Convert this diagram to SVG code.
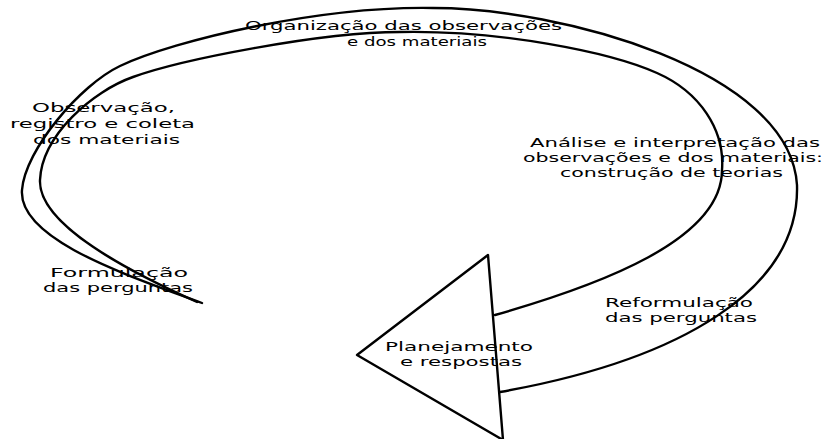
<svg xmlns="http://www.w3.org/2000/svg" width="825" height="439" viewBox="0 0 825 439">
<style>
.ln{fill:none;stroke:#000;stroke-width:2.4;stroke-linejoin:round;stroke-linecap:round}
.lb{font-family:"DejaVu Sans","Liberation Sans",sans-serif;font-size:13px;fill:#000}
</style>
<rect width="825" height="439" fill="#fff"/>
<g id="connectors">
<path class="ln" d="M202,303 C130,276 18,240 22,190 C25,150 80,85 120,66 C175,40 320,6 433,8 C560,8 790,70 797,185 C800,290 680,360 500,392"/>
<path class="ln" d="M197,302 C130,272 38,225 40,180 C42,135 93,91 133,77 C180,60 320,32 400,32 C500,30 610,52 657,73 C700,92 725,130 722,170 C722,240 600,285 495,315"/>
<polygon class="ln" points="357,355 488,255 503,440"/>
</g>
<g id="organizacao">
<text class="lb" x="245" y="30" textLength="317" lengthAdjust="spacingAndGlyphs">Organização das observações</text>
<text class="lb" x="347" y="46" textLength="140" lengthAdjust="spacingAndGlyphs">e dos materiais</text>
</g>
<g id="observacao">
<text class="lb" x="32" y="112" textLength="143" lengthAdjust="spacingAndGlyphs">Observação,</text>
<text class="lb" x="10" y="128" textLength="185" lengthAdjust="spacingAndGlyphs">registro e coleta</text>
<text class="lb" x="33" y="144" textLength="147" lengthAdjust="spacingAndGlyphs">dos materiais</text>
</g>
<g id="analise">
<text class="lb" x="530" y="147" textLength="290" lengthAdjust="spacingAndGlyphs">Análise e interpretação das</text>
<text class="lb" x="523" y="162" textLength="300" lengthAdjust="spacingAndGlyphs">observações e dos materiais:</text>
<text class="lb" x="560" y="177" textLength="223" lengthAdjust="spacingAndGlyphs">construção de teorias</text>
</g>
<g id="formulacao">
<text class="lb" x="50" y="277" textLength="138" lengthAdjust="spacingAndGlyphs">Formulação</text>
<text class="lb" x="43" y="292" textLength="150" lengthAdjust="spacingAndGlyphs">das perguntas</text>
</g>
<g id="reformulacao">
<text class="lb" x="605" y="307" textLength="148" lengthAdjust="spacingAndGlyphs">Reformulação</text>
<text class="lb" x="605" y="322" textLength="152" lengthAdjust="spacingAndGlyphs">das perguntas</text>
</g>
<g id="planejamento">
<text class="lb" x="385" y="351" textLength="148" lengthAdjust="spacingAndGlyphs">Planejamento</text>
<text class="lb" x="400" y="366" textLength="122" lengthAdjust="spacingAndGlyphs">e respostas</text>
</g>
</svg>
